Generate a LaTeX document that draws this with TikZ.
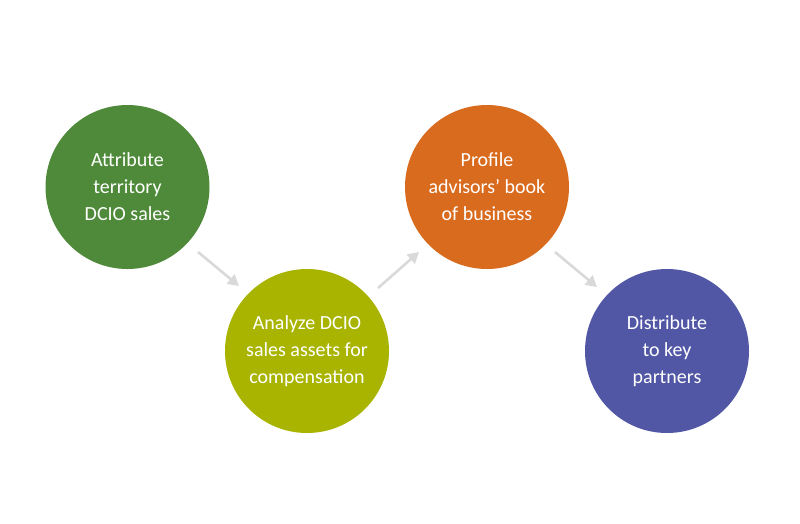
\documentclass[tikz,border=0pt]{standalone}
\usepackage{fontspec}
\setmainfont{Carlito}
\usetikzlibrary{arrows.meta}
\definecolor{cgreen}{HTML}{4E8A3A}
\definecolor{cyellow}{HTML}{A8B400}
\definecolor{corange}{HTML}{D96B1E}
\definecolor{cpurple}{HTML}{5157A5}
\definecolor{carrow}{HTML}{D9D9D9}
\begin{document}
\begin{tikzpicture}[x=1pt,y=-1pt,
  stepcircle/.style={circle,minimum size=164pt,inner sep=0pt,text=white,
    font=\fontsize{20}{27}\selectfont,align=center},
  conn/.style={draw=carrow,line width=2.6pt,-{Triangle[length=11pt,width=12pt]}}]
\useasboundingbox (0,0) rectangle (800,523);
\node[stepcircle,fill=cgreen] (a) at (127.5,187) {Attribute\\territory\\DCIO sales};
\node[stepcircle,fill=cyellow] (b) at (307,351) {Analyze DCIO\\sales assets for\\compensation};
\node[stepcircle,fill=corange] (c) at (487,187) {Profile\\advisors’ book\\of business};
\node[stepcircle,fill=cpurple] (d) at (667,351) {Distribute\\to key\\partners};
\coordinate (a1) at (198,252); \coordinate (a2) at (239,286);
\coordinate (b1) at (378,288); \coordinate (b2) at (419,252);
\coordinate (c1) at (555,252); \coordinate (c2) at (597,287);
\draw[conn] (a1) -- (a2);
\draw[conn] (b1) -- (b2);
\draw[conn] (c1) -- (c2);
\end{tikzpicture}
\end{document}
